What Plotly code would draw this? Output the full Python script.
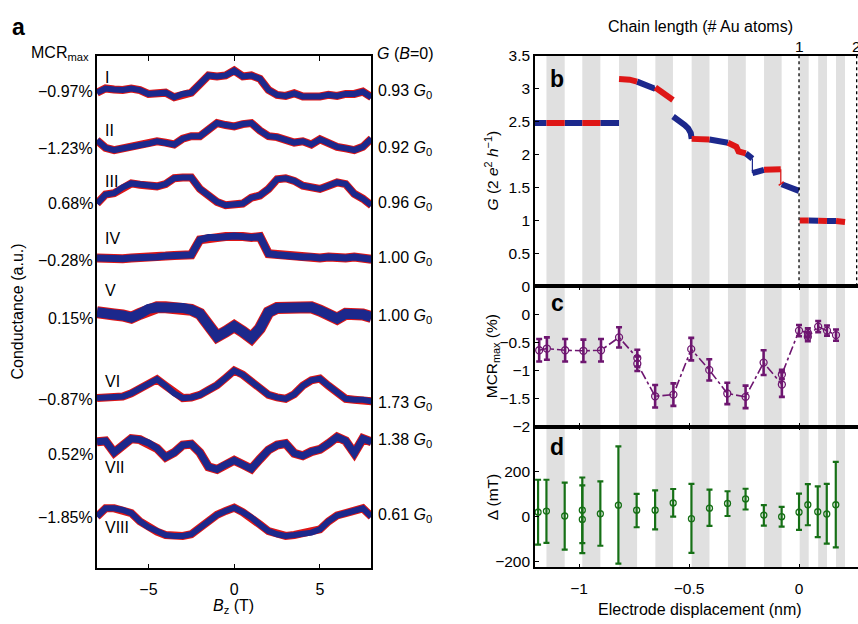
import plotly.graph_objects as go

W, H = 858, 624
FONT = "Liberation Sans, Arial, Helvetica, sans-serif"
BLUE = "rgb(28,40,140)"
RED = "rgb(222,22,22)"
PURPLE = "rgb(110,22,112)"
GREEN = "rgb(22,112,22)"
BAND = "rgb(224,224,224)"

# ---------------- panel a data ----------------
B_field = [-8.0, -7.5, -7.0, -6.5, -6.0, -5.5, -5.0, -4.5, -4.0, -3.5, -3.0, -2.5, -2.0,
           -1.5, -1.0, -0.5, 0.0, 0.5, 1.0, 1.5, 2.0, 2.5, 3.0, 3.5, 4.0, 4.5, 5.0,
           5.5, 6.0, 6.5, 7.0, 7.5, 8.0]
curve_I = [48.9, 49.33, 49.23, 49.17, 49.33, 49.17, 48.77, 48.77, 48.9, 48.43, 48.77, 48.9, 49.77,
           50.67, 50.57, 50.67, 51.17, 50.57, 50.67, 50.33, 49.17, 48.67, 48.57, 48.83, 48.5, 48.43,
           48.5, 48.67, 48.57, 48.77, 48.77, 49.0, 48.43]
curve_II = [44.0, 43.23, 43.0, 43.17, 43.23, 43.43, 43.67, 43.9, 43.77, 43.57, 44.17, 44.43, 44.43,
            45.1, 45.77, 45.57, 45.43, 45.67, 45.77, 45.0, 44.43, 44.33, 44.1, 43.77, 43.9, 43.57,
            44.1, 43.67, 43.33, 43.17, 43.0, 43.33, 44.17]
curve_III = [37.5, 38.43, 38.57, 39.17, 39.57, 39.43, 39.33, 39.27, 39.5, 40.1, 40.17, 40.17, 39.0,
             38.33, 37.67, 37.33, 37.4, 37.5, 38.1, 38.33, 39.0, 40.0, 40.1, 39.83, 39.33, 39.1,
             39.0, 39.33, 39.67, 39.5, 38.5, 38.0, 37.33]
curve_IV = [31.9, 31.83, 31.77, 31.83, 31.9, 31.9, 32.0, 32.0, 32.1, 32.17, 32.17, 32.23, 33.77,
            34.0, 34.0, 34.1, 34.17, 34.1, 34.0, 34.1, 32.33, 32.23, 32.1, 32.0, 32.0, 32.0,
            31.9, 32.0, 31.9, 31.9, 32.0, 31.83, 31.77]
curve_V = [26.33, 26.33, 26.1, 26.0, 25.77, 26.17, 26.67, 26.83, 26.83, 26.83, 26.77, 26.57, 26.17,
           25.0, 23.83, 24.33, 24.9, 24.33, 23.67, 24.67, 26.33, 26.77, 26.83, 26.67, 26.77, 26.83,
           26.5, 26.0, 25.67, 26.17, 26.23, 26.1, 25.83]
curve_VI = [17.5, 17.57, 17.57, 17.67, 18.0, 18.43, 18.9, 19.43, 18.77, 18.0, 17.5, 17.57, 17.83,
            18.33, 18.83, 19.57, 20.33, 19.9, 19.17, 18.43, 17.83, 17.57, 17.43, 17.9, 18.77, 19.33,
            19.5, 18.77, 18.0, 17.43, 17.33, 17.33, 17.17]
curve_VII = [13.0, 13.1, 11.9, 12.67, 13.33, 13.23, 12.9, 12.33, 11.43, 11.9, 12.67, 12.77, 11.9,
             10.43, 10.17, 10.67, 11.1, 10.67, 10.23, 11.23, 12.17, 12.67, 12.83, 11.83, 11.57, 12.0,
             12.23, 12.83, 13.5, 13.1, 11.83, 13.33, 13.0]
curve_VIII = [5.33, 6.17, 6.17, 6.0, 5.67, 4.83, 4.23, 3.77, 3.43, 3.33, 3.33, 3.5, 4.17,
              4.83, 5.5, 5.9, 6.23, 5.77, 5.23, 4.5, 3.83, 3.5, 3.33, 3.43, 3.57, 3.67,
              4.0, 4.83, 5.43, 5.67, 6.0, 6.17, 5.33]
curves = [curve_I, curve_II, curve_III, curve_IV, curve_V, curve_VI, curve_VII, curve_VIII]
curve_names = ["I", "II", "III", "IV", "V", "VI", "VII", "VIII"]
mcr_labels = ["−0.97%", "−1.23%", "0.68%", "−0.28%", "0.15%", "−0.87%", "0.52%", "−1.85%"]
g_zero_labels = ["0.93", "0.92", "0.96", "1.00", "1.00", "1.73", "1.38", "0.61"]

# label positions (panel a, a.u.)
name_pos = [50.5, 45.0, 39.8, 33.9, 28.6, 19.2, 10.4, 4.2]
mcr_pos = [49.0, 43.17, 37.5, 31.6, 25.67, 17.4, 11.67, 5.23]
g_pos = [49.0, 43.17, 37.5, 31.83, 25.9, 16.9, 13.1, 5.43]
curve_width = [6, 6, 6, 7, 10, 6, 7, 6]

# ---------------- panel b data ----------------
b_disp = [-1.2, -1.148, -1.065, -0.985, -0.903, -0.818, None,
          -0.818, -0.77, -0.736, -0.70, -0.66, -0.653, -0.63, -0.61, -0.573, None,
          -0.5725, -0.542, -0.5195, -0.504, -0.492, -0.488, -0.407, -0.323, -0.285, -0.275,
          -0.242, -0.212, -0.212, -0.159, -0.083, -0.083, -0.079, 0.0, None,
          0.003, 0.044, 0.087, 0.127, 0.168, 0.209]
b_G = [2.48, 2.48, 2.48, 2.48, 2.48, 2.48, None,
       3.15, 3.14, 3.11, 3.06, 3.01, 3.02, 2.96, 2.91, 2.83, None,
       2.58, 2.52, 2.45, 2.40, 2.33, 2.24, 2.23, 2.18, 2.12, 2.05,
       2.02, 1.94, 1.72, 1.77, 1.78, 1.57, 1.55, 1.45, None,
       1.0, 1.0, 0.995, 0.99, 0.99, 0.975]

band_start = [-1.148, -0.985, -0.818, -0.653, -0.488, -0.323, -0.159, 0.003, 0.087, 0.168]
band_end = [-1.065, -0.903, -0.736, -0.573, -0.407, -0.242, -0.079, 0.044, 0.127, 0.209]
chain_ticks = [0.0, 0.262]
chain_labels = ["1", "2"]

# ---------------- panel c data ----------------
c_disp = [-1.181, -1.146, -1.063, -0.98, -0.90, -0.818, -0.735, -0.735, -0.654, -0.571, -0.49,
          -0.408, -0.326, -0.243, -0.161, -0.078, -0.078, 0.0, 0.04, 0.04, 0.087, 0.127, 0.168]
c_mcr = [-0.64, -0.61, -0.64, -0.65, -0.64, -0.41, -0.78, -0.88, -1.46, -1.43, -0.62,
         -0.99, -1.41, -1.47, -0.86, -1.25, -1.07, -0.29, -0.33, -0.40, -0.22, -0.29, -0.37]
c_err = [0.2, 0.2, 0.2, 0.2, 0.2, 0.18, 0.15, 0.13, 0.2, 0.2, 0.2,
         0.19, 0.19, 0.2, 0.22, 0.22, 0.08, 0.1, 0.08, 0.08, 0.1, 0.09, 0.1]

# ---------------- panel d data ----------------
d_disp = [-1.186, -1.148, -1.065, -0.985, -0.985, -0.903, -0.821, -0.738, -0.654, -0.572, -0.489,
          -0.407, -0.325, -0.243, -0.16, -0.079, 0.0, 0.04, 0.085, 0.126, 0.167]
d_delta = [20, 25, 3, 29, -12, 13, 51, 29, 29, 61, -9, 38, 59, 79, 7, 0, 20, 53, 22, 12, 53]
d_top = [164, 164, 151, 174, 139, 157, 312, 101, 117, 123, 146, 120, 113, 124, 51, 44, 102, 145,
         135, 146, 243]
d_bottom = [-124, -116, -146, -117, -162, -129, -208, -47, -56, 0, -161, -41, 3, 32, -40, -44,
            -59, -38, -91, -120, -136]


def px(x):
    return x / W


def py(y):
    return 1 - y / H


fig = go.Figure()

# panel a traces
for vals, w in zip(curves, curve_width):
    fig.add_trace(go.Scatter(x=B_field, y=vals, mode="lines", line=dict(color=RED, width=w + 2),
                             xaxis="x", yaxis="y", showlegend=False, hoverinfo="skip"))
    fig.add_trace(go.Scatter(x=B_field, y=vals, mode="lines", line=dict(color=BLUE, width=w),
                             xaxis="x", yaxis="y", showlegend=False, hoverinfo="skip"))


# panel b: split into coloured runs
def in_band(x):
    return any(s <= x < e for s, e in zip(band_start, band_end))


runs = []
for i in range(len(b_disp) - 1):
    x0, x1, g0, g1 = b_disp[i], b_disp[i + 1], b_G[i], b_G[i + 1]
    if x0 is None or x1 is None:
        continue
    col = RED if in_band((x0 + x1) / 2) else BLUE
    thin = x0 == x1
    key = (col, thin)
    if runs and runs[-1][0] == key and runs[-1][1][-1] == x0 and runs[-1][2][-1] == g0:
        runs[-1][1].append(x1)
        runs[-1][2].append(g1)
    else:
        runs.append([key, [x0, x1], [g0, g1]])

for col in (BLUE, RED):
    for thin in (False, True):
        xs, ys = [], []
        for key, rx, ry in runs:
            if key == (col, thin):
                xs += rx + [None]
                ys += ry + [None]
        if xs:
            fig.add_trace(go.Scatter(x=xs, y=ys, mode="lines",
                                     line=dict(color=col, width=1.2 if thin else 6),
                                     xaxis="x2", yaxis="y2", showlegend=False, hoverinfo="skip",
                                     connectgaps=False))

# panel c
fig.add_trace(go.Scatter(
    x=c_disp, y=c_mcr, mode="lines+markers",
    line=dict(color=PURPLE, width=1.6, dash="dashdot"),
    marker=dict(symbol="circle-open", size=7, color=PURPLE, line=dict(width=1.3)),
    error_y=dict(type="data", array=c_err, color=PURPLE, thickness=2.6, width=3),
    xaxis="x3", yaxis="y3", showlegend=False))

# panel d
fig.add_trace(go.Scatter(
    x=d_disp, y=d_delta, mode="markers",
    marker=dict(symbol="circle-open", size=6, color=GREEN, line=dict(width=1.3)),
    error_y=dict(type="data", symmetric=False,
                 array=[t - c for t, c in zip(d_top, d_delta)],
                 arrayminus=[c - b for c, b in zip(d_delta, d_bottom)],
                 color=GREEN, thickness=2.2, width=3),
    xaxis="x4", yaxis="y4", showlegend=False))

# shapes: gray bands and dotted lines
shapes = []
for s, e in zip(band_start, band_end):
    shapes.append(dict(type="rect", xref="x2", yref="paper", x0=s, x1=e,
                       y0=py(574), y1=py(48.3), fillcolor=BAND, line=dict(width=0), layer="below"))
for t in chain_ticks:
    shapes.append(dict(type="line", xref="x2", yref="y2", x0=t, x1=t, y0=0, y1=3.5,
                       line=dict(color="black", width=1.3, dash="dot")))

FS = 15.5
tf = dict(family=FONT, size=FS, color="black")


def note(x, y, text, xref="paper", yref="paper", xanchor="center", size=FS, angle=0):
    return dict(x=x, y=y, xref=xref, yref=yref, text=text, showarrow=False,
                xanchor=xanchor, yanchor="middle", textangle=angle,
                font=dict(family=FONT, size=size, color="black"))


ann = []
for name, yv in zip(curve_names, name_pos):
    ann.append(note(-7.65, yv, name, xref="x", yref="y", xanchor="left", size=16))
for lab, yv in zip(mcr_labels, mcr_pos):
    ann.append(note(px(95), yv, lab, yref="y", xanchor="right", size=16))
for lab, yv in zip(g_zero_labels, g_pos):
    ann.append(note(px(376), yv, lab + " <i>G</i><sub>0</sub>", yref="y", xanchor="left", size=16))
ann += [
    note(px(18), py(19), "<b>a</b>", size=23),
    note(px(91), py(46), "MCR<sub>max</sub>", xanchor="right", size=16),
    note(px(375), py(46), "<i>G</i> (<i>B</i>=0)", xanchor="left", size=16),
    note(px(18), py(311), "Conductance (a.u.)", angle=-90, size=16),
    note(px(234), py(614), "<i>B</i><sub>z</sub> (T)", size=16),
    note(px(700), py(18), "Chain length (# Au atoms)", size=16),
    note(px(700), py(617), "Electrode displacement (nm)", size=16),
    note(px(492), py(166), "<i>G</i> (2 <i>e</i><sup>2</sup> <i>h</i><sup>−1</sup>)", angle=-90),
    note(px(492), py(357), "MCR<sub>max</sub> (%)", angle=-90),
    note(px(492), py(502), "Δ (mT)", angle=-90),
    note(px(557), py(72), "<b>b</b>", size=23),
    note(px(557), py(302), "<b>c</b>", size=23),
    note(px(557), py(450), "<b>d</b>", size=23),
]
for t, lab in zip(chain_ticks, chain_labels):
    ann.append(note(t, py(39), lab, xref="x2"))

axis_common = dict(showgrid=False, zeroline=False, showline=True, linecolor="black",
                   linewidth=1.6, tickcolor="black", tickfont=tf)
xr = [-1.2, 0.268]
fig.update_layout(
    width=W, height=H, autosize=False,
    margin=dict(l=0, r=0, t=0, b=0),
    paper_bgcolor="white", plot_bgcolor="rgba(0,0,0,0)",
    font=dict(family=FONT, size=FS, color="black"),
    shapes=shapes, annotations=ann,
    xaxis=dict(domain=[px(97), px(371.4)], range=[-8, 8], anchor="y", tickvals=[-5, 0, 5],
               ticks="inside", ticklen=5, mirror="ticks", ticklabelstandoff=6,
               **{**axis_common, "tickfont": dict(family=FONT, size=16)}),
    yaxis=dict(domain=[py(575), py(48.3)], range=[0, 52.67], anchor="x", showticklabels=False,
               ticks="", mirror=True, **axis_common),
    xaxis2=dict(domain=[px(535), 1], range=xr, anchor="y2", showticklabels=False, ticks="",
                mirror=True, **axis_common),
    yaxis2=dict(domain=[py(285), py(48.3)], range=[0, 3.5], anchor="x2",
                tickvals=[0, 0.5, 1, 1.5, 2, 2.5, 3, 3.5], ticks="inside", ticklen=4,
                **axis_common),
    xaxis3=dict(domain=[px(535), 1], range=xr, anchor="y3", showticklabels=False,
                tickvals=[-1, -0.5, 0], ticks="inside", ticklen=4, mirror="ticks", **axis_common),
    yaxis3=dict(domain=[py(429.3), py(285)], range=[-2, 0.5], anchor="x3",
                tickvals=[-2, -1.5, -1, -0.5, 0], ticks="inside", ticklen=4, **axis_common),
    xaxis4=dict(domain=[px(535), 1], range=xr, anchor="y4", tickvals=[-1, -0.5, 0],
                ticks="inside", ticklen=4, mirror="ticks", ticklabelstandoff=6, **axis_common),
    yaxis4=dict(domain=[py(574), py(429.3)], range=[-225, 400], anchor="x4",
                tickvals=[-200, 0, 200], ticks="inside", ticklen=4, **axis_common),
)

fig.write_html("out.html", config={"displayModeBar": False},
               post_script="document.body.style.margin='0';document.body.style.overflow='hidden';")
